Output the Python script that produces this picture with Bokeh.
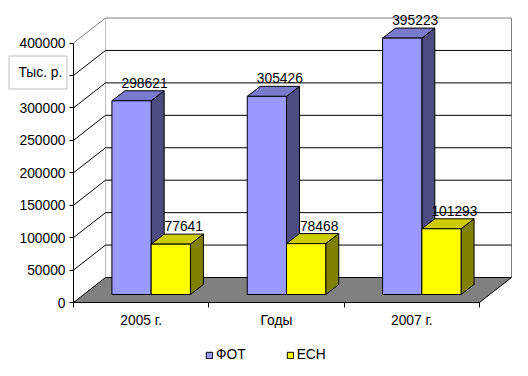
from bokeh.plotting import figure
from bokeh.models import (Range1d, LinearAxis, FixedTicker, BasicTickFormatter,
                          Legend, LegendItem, Label, BoxAnnotation)
from bokeh.core.properties import value
from bokeh.embed import file_html
from bokeh.resources import INLINE

# ---- data ----
categories = ["2005 г.", "Годы", "2007 г."]
fot = [298621, 305426, 395223]
ech = [77641, 78468, 101293]
series_names = ["ФОТ", "ЕСН"]
y_ticks = [0, 50000, 100000, 150000, 200000, 250000, 300000, 350000, 400000]
unit_label = "Тыс. р."

# ---- layout constants (pixels) ----
W, H = 528, 376
ORIGIN_X, ORIGIN_Y = 73, 302          # where the front axes meet
PX_PER_CAT = 135.33
Y_MAX = y_ticks[-1]
PX_PER_VAL = 259.5 / Y_MAX
ncat = len(categories)

def dxp(px):
    return px / PX_PER_CAT

def dyp(px):
    return px / PX_PER_VAL

def sx(px):   # absolute screen x -> data
    return dxp(px - ORIGIN_X)

def sy(px):   # absolute screen y -> data
    return dyp(ORIGIN_Y - px)

FONT = "Liberation Sans"
FS = "13.8px"

p = figure(width=W, height=H,
           x_range=Range1d(sx(0), sx(W)), y_range=Range1d(sy(H), sy(0)),
           x_axis_type=None, y_axis_type=None, toolbar_location=None,
           output_backend="svg", min_border=0)
p.outline_line_color = None
p.background_fill_color = "white"
p.border_fill_color = "white"

# walls
WDX, WDY = dxp(32), dyp(25)
p.quad(left=[WDX], right=[ncat + WDX], bottom=[WDY], top=[Y_MAX + WDY],
       fill_color="white", line_color="#808080", line_width=1)
p.patch([0, 0, WDX, WDX], [0, Y_MAX, Y_MAX + WDY, WDY], fill_color="white", line_color=None)
p.line([0, WDX], [Y_MAX, Y_MAX + WDY], line_color="#808080", line_width=1)
# floor
p.patch([0, ncat, ncat + WDX, WDX], [0, 0, WDY, WDY], fill_color="#808080", line_color=None)
p.line([ncat, ncat + WDX], [0, WDY], line_color="black", line_width=1)

# gridlines
grid_vals = y_ticks[:-1]
p.segment(x0=[WDX] * len(grid_vals), y0=[v + WDY for v in grid_vals],
          x1=[ncat + WDX] * len(grid_vals), y1=[v + WDY for v in grid_vals],
          line_color="black", line_width=1)
p.segment(x0=[0] * len(grid_vals), y0=grid_vals,
          x1=[WDX] * len(grid_vals), y1=[v + WDY for v in grid_vals],
          line_color="black", line_width=1)

# bars
BOX, BOY = dxp(10), dyp(8)
BW = 0.29
BDX, BDY = dxp(13), dyp(10)
centers = [i + 0.5 + BOX for i in range(ncat)]

def draw_bars(vals, lefts, front, top_c, side_c):
    rights = [l + BW for l in lefts]
    tops = [BOY + v for v in vals]
    side_xs = [[r, r + BDX, r + BDX, r] for r in rights]
    side_ys = [[BOY, BOY + BDY, t + BDY, t] for t in tops]
    p.patches(side_xs, side_ys, fill_color=side_c, line_color="black", line_width=1)
    top_xs = [[l, r, r + BDX, l + BDX] for l, r in zip(lefts, rights)]
    top_ys = [[t, t, t + BDY, t + BDY] for t in tops]
    p.patches(top_xs, top_ys, fill_color=top_c, line_color="black", line_width=1)
    fr = p.quad(left=lefts, right=rights, bottom=[BOY] * len(vals), top=tops,
                fill_color=front, line_color="black", line_width=1)
    p.text(x=[(l + r) / 2 + dxp(13) for l, r in zip(lefts, rights)],
           y=[t + dyp(18) for t in tops], text=[str(v) for v in vals],
           text_align="center", text_baseline="alphabetic",
           text_font=value(FONT), text_font_size=FS, text_color="black")
    return fr

r_fot = draw_bars(fot, [c - BW for c in centers], "#9999FF", "#7A7ACC", "#4C4C80")
r_ech = draw_bars(ech, centers, "#FFFF00", "#CCCC00", "#808000")

# axes (fixed at the front corner of the 3D box)
yaxis = LinearAxis(ticker=FixedTicker(ticks=y_ticks), bounds=(0, Y_MAX), fixed_location=0,
                   formatter=BasicTickFormatter(use_scientific=False),
                   major_tick_out=4, major_tick_in=0, minor_tick_out=0, minor_tick_in=0,
                   major_label_standoff=4, axis_line_color="black",
                   major_tick_line_color="black",
                   major_label_text_font=FONT, major_label_text_font_size=FS,
                   major_label_text_color="black")
p.add_layout(yaxis, "left")

mids = [i + 0.5 for i in range(ncat)]
xaxis = LinearAxis(ticker=FixedTicker(ticks=mids, minor_ticks=list(range(ncat + 1))),
                   bounds=(0, ncat), fixed_location=0,
                   major_label_overrides={m: c for m, c in zip(mids, categories)},
                   major_tick_out=0, major_tick_in=0, minor_tick_out=5, minor_tick_in=0,
                   minor_tick_line_color="black", axis_line_color="black",
                   major_label_standoff=5,
                   major_label_text_font=FONT, major_label_text_font_size=FS,
                   major_label_text_color="black")
p.add_layout(xaxis, "below")

# unit box
p.add_layout(BoxAnnotation(left=sx(8.5), right=sx(66.5), top=sy(55.5), bottom=sy(88.5),
                           fill_color="white", fill_alpha=1.0,
                           line_color="#C0C0C0", line_width=1, line_alpha=1.0))
p.add_layout(Label(x=sx(18), y=sy(72), text=unit_label,
                   text_align="left", text_baseline="alphabetic",
                   text_font=FONT, text_font_size=FS, text_color="black"))

legend = Legend(items=[LegendItem(label=series_names[0], renderers=[r_fot]),
                       LegendItem(label=series_names[1], renderers=[r_ech])],
                orientation="horizontal", location=(205, H - 362),
                glyph_width=8, glyph_height=8, label_standoff=3, spacing=40,
                padding=0, margin=0, border_line_color=None, background_fill_alpha=0,
                label_text_font=FONT, label_text_font_size=FS, label_text_color="black")
p.add_layout(legend)

open("out.html", "w").write(file_html(p, INLINE))
